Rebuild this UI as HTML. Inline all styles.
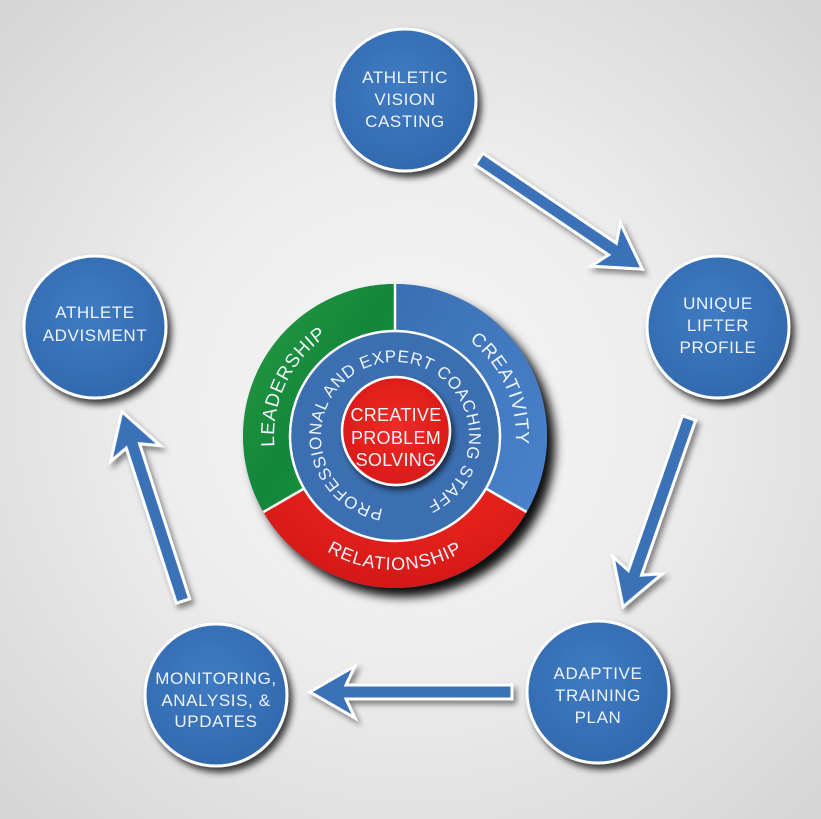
<!DOCTYPE html>
<html><head><meta charset="utf-8">
<style>
html,body{margin:0;padding:0;}
body{width:821px;height:819px;overflow:hidden;background:radial-gradient(ellipse 70% 70% at 50% 50%, #f6f6f6 0%, #ededed 45%, #d5d5d5 100%);}
svg{display:block;}
text{font-family:"Liberation Sans",sans-serif;fill:#eef3f9;}
</style></head>
<body>
<svg width="821" height="819" viewBox="0 0 821 819" xmlns="http://www.w3.org/2000/svg">
<defs>
  <filter id="sh" x="-30%" y="-30%" width="160%" height="160%">
    <feDropShadow dx="4" dy="5" stdDeviation="3.5" flood-color="#000" flood-opacity="0.75"/>
  </filter>
  <filter id="ash" x="-30%" y="-30%" width="160%" height="160%">
    <feDropShadow dx="3" dy="4" stdDeviation="3" flood-color="#000" flood-opacity="0.45"/>
  </filter>
  <filter id="wsh" x="-30%" y="-30%" width="160%" height="160%">
    <feDropShadow dx="8" dy="9" stdDeviation="5" flood-color="#000" flood-opacity="0.95"/>
  </filter>
  <filter id="rsh" x="-30%" y="-30%" width="160%" height="160%">
    <feDropShadow dx="3" dy="4" stdDeviation="3" flood-color="#000" flood-opacity="0.6"/>
  </filter>
  <radialGradient id="nodeG" cx="45%" cy="40%" r="65%">
    <stop offset="0" stop-color="#3f7bc2"/>
    <stop offset="1" stop-color="#3168ad"/>
  </radialGradient>
  <linearGradient id="greenG" x1="0" y1="0" x2="1" y2="1">
    <stop offset="0" stop-color="#2a9c44"/>
    <stop offset="0.5" stop-color="#13863a"/>
    <stop offset="1" stop-color="#1f9a40"/>
  </linearGradient>
  <linearGradient id="blueG" x1="0" y1="0" x2="1" y2="1">
    <stop offset="0" stop-color="#3a6fb2"/>
    <stop offset="1" stop-color="#4a83cc"/>
  </linearGradient>
  <radialGradient id="redG" cx="55%" cy="30%" r="80%">
    <stop offset="0" stop-color="#f22a22"/>
    <stop offset="1" stop-color="#cf1515"/>
  </radialGradient>
  <radialGradient id="redC" cx="50%" cy="45%" r="60%">
    <stop offset="0" stop-color="#f02a24"/>
    <stop offset="1" stop-color="#d81a18"/>
  </radialGradient>
  <!-- text paths -->
  <path id="pLead" d="M 295.3,504.5 A 121,121 0 0 1 385.5,315.4"/>
  <path id="pCrea" d="M 407.6,315.7 A 121,121 0 0 1 492.9,507.1"/>
  <path id="pRel" d="M 279.0,503.0 A 134,134 0 0 0 511.0,503.0"/>
  <path id="pInner" d="M 389.2,509.8 A 74,74 0 1 1 400.8,362.2 A 74,74 0 1 1 389.2,509.8"/>
</defs>

<!-- ARROWS -->
<g fill="#3a71b6" stroke="#ffffff" stroke-width="3" stroke-linejoin="miter" filter="url(#ash)">
  <polygon transform="translate(479,159) rotate(34)" points="0,-7 161,-7 153,-26 197,0 153,26 161,7 0,7"/>
  <polygon transform="translate(689,418) rotate(109.25)" points="0,-7 164,-7 156,-26 200,0 156,26 164,7 0,7"/>
  <polygon transform="translate(512,692) rotate(180)" points="0,-7 166,-7 157,-26 202,0 157,26 166,7 0,7"/>
  <polygon transform="translate(183,601) rotate(252.1)" points="0,-7 163,-7 155,-26 199,0 155,26 163,7 0,7"/>
</g>

<!-- NODES -->
<g fill="url(#nodeG)" stroke="#ffffff" stroke-width="3" filter="url(#sh)">
  <circle cx="405" cy="100" r="71"/>
  <circle cx="718" cy="327" r="71"/>
  <circle cx="598" cy="692" r="71"/>
  <circle cx="216" cy="695" r="71"/>
  <circle cx="95" cy="327" r="71"/>
</g>
<g font-size="17" text-anchor="middle" letter-spacing="0.6">
  <text x="405" y="83">ATHLETIC</text>
  <text x="405" y="105">VISION</text>
  <text x="405" y="127">CASTING</text>

  <text x="718" y="309">UNIQUE</text>
  <text x="718" y="331">LIFTER</text>
  <text x="718" y="353">PROFILE</text>

  <text x="598" y="679">ADAPTIVE</text>
  <text x="598" y="701">TRAINING</text>
  <text x="598" y="723">PLAN</text>

  <text x="216" y="684">MONITORING,</text>
  <text x="216" y="706">ANALYSIS, &amp;</text>
  <text x="216" y="727">UPDATES</text>

  <text x="95" y="318">ATHLETE</text>
  <text x="95" y="341">ADVISMENT</text>
</g>

<!-- WHEEL -->
<g filter="url(#wsh)">
  <circle cx="395" cy="436" r="152" fill="#3a6fb2"/>
</g>
<path d="M395,436 L263.4,512 A152,152 0 0 1 395,284 Z" fill="url(#greenG)"/>
<path d="M395,436 L395,284 A152,152 0 0 1 526.6,512 Z" fill="url(#blueG)"/>
<path d="M395,436 L526.6,512 A152,152 0 0 1 263.4,512 Z" fill="url(#redG)"/>
<g stroke="#ffffff" stroke-width="2.5">
  <line x1="395" y1="331" x2="395" y2="284"/>
  <line x1="485.9" y1="488.5" x2="526.6" y2="512"/>
  <line x1="304.1" y1="488.5" x2="263.4" y2="512"/>
</g>
<circle cx="395" cy="436" r="105" fill="#3b6fb1" stroke="#ffffff" stroke-width="2.5"/>
<circle cx="396" cy="431" r="54" fill="url(#redC)" stroke="#ffffff" stroke-width="2.5" filter="url(#rsh)"/>

<g font-size="19" letter-spacing="0.8">
  <text text-anchor="middle"><textPath href="#pLead" startOffset="50%">LEADERSHIP</textPath></text>
  <text text-anchor="middle"><textPath href="#pCrea" startOffset="50%">CREATIVITY</textPath></text>
</g>
<g font-size="18" letter-spacing="1">
  <text text-anchor="middle"><textPath href="#pRel" startOffset="50%">RELATIONSHIP</textPath></text>
</g>
<g font-size="17">
  <text><textPath href="#pInner" startOffset="6" textLength="420" lengthAdjust="spacing">PROFESSIONAL AND EXPERT COACHING STAFF</textPath></text>
</g>

<g font-size="18" text-anchor="middle" letter-spacing="0.3">
  <text x="396" y="421">CREATIVE</text>
  <text x="396" y="444">PROBLEM</text>
  <text x="396" y="466">SOLVING</text>
</g>
</svg>
</body></html>
